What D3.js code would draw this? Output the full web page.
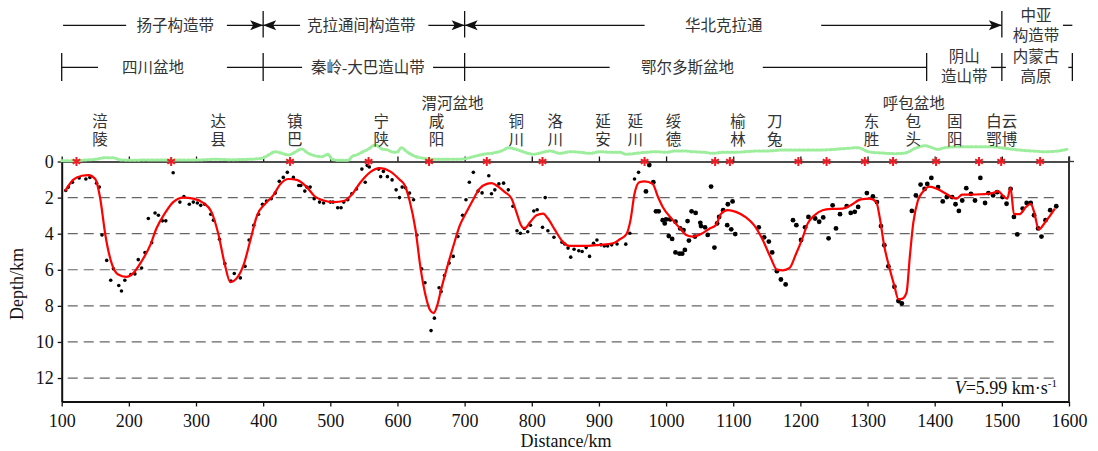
<!DOCTYPE html>
<meta charset="utf-8">
<style>
  body { margin: 0; background: #fff; }
  svg { display: block; }
  .cjk { font-family: "Liberation Serif", "Noto Sans CJK SC", serif; font-size: 15.5px; fill: #333; }
  .num { font-family: "Liberation Serif", "Times New Roman", serif; font-size: 18px; fill: #111; }
</style>
<script src="https://d3js.org/d3.v7.min.js"></script>

<svg id="chart" width="1098" height="451" xml:lang="zh-CN"></svg>

<script>
// ---- data (distance in km, depth in km) ----
const xTickValues = [100, 200, 300, 400, 500, 600, 700, 800, 900, 1000, 1100, 1200, 1300, 1400, 1500, 1600];
const yTickValues = [0, 2, 4, 6, 8, 10, 12];

// black dots: picked depths
const dotDist = [
  106, 110, 116, 126, 136, 142, 152, 156, 160, 167,
  173, 177, 185, 189, 194, 203, 209, 214, 219, 224,
  229, 234, 239, 244, 250, 255, 266, 276, 282, 290,
  296, 302, 307, 313, 322, 326, 335, 343, 352, 357,
  366, 373, 379, 386, 393, 399, 405, 412, 418, 424,
  430, 436, 445, 453, 456, 462, 465, 470, 476, 484,
  490, 500, 504, 511, 516, 520, 526, 532, 539, 547,
  552, 555, 558, 572, 575, 579, 585, 592, 598, 603,
  607, 612, 618, 624, 629, 636, 641, 650, 655, 662,
  665, 670, 677, 683, 690, 697, 702, 707, 713, 720,
  726, 736, 740, 745, 751, 758, 765, 772, 778, 783,
  789, 794, 798, 803, 808, 816, 820, 824, 833, 845,
  849, 854, 858, 863, 870, 875, 881, 886, 892, 897,
  903, 908, 913, 919, 927, 940, 946, 953, 959, 970,
  975, 981, 985, 989, 995, 998, 1000, 1004, 1006, 1009,
  1014, 1014, 1020, 1021, 1024, 1026, 1028, 1032, 1034, 1038,
  1043, 1044, 1051, 1052, 1058, 1062, 1067, 1072, 1076, 1079,
  1085, 1091, 1092, 1097, 1099, 1103, 1138, 1146, 1153, 1158,
  1165, 1171, 1178, 1189, 1194, 1201, 1207, 1212, 1222, 1228,
  1234, 1242, 1248, 1253, 1259, 1269, 1275, 1281, 1286, 1299,
  1308, 1314, 1320, 1325, 1331, 1340, 1346, 1351, 1366, 1372,
  1379, 1385, 1389, 1395, 1405, 1412, 1418, 1426, 1431, 1436,
  1441, 1447, 1454, 1460, 1468, 1475, 1480, 1487, 1493, 1501,
  1507, 1513, 1518, 1523, 1531, 1537, 1543, 1548, 1554, 1559,
  1565, 1572, 1581
];
const dotDepth = [
  1.61, 1.42, 1.15, 0.91, 0.97, 0.88, 1.20, 1.42, 4.07, 5.48,
  6.58, 5.95, 6.87, 7.18, 6.58, 6.26, 6.23, 5.44, 5.90, 5.04,
  3.16, 4.50, 2.85, 2.98, 3.29, 3.29, 0.62, 2.25, 1.94, 2.37,
  2.25, 2.30, 2.43, 2.37, 2.92, 3.25, 4.31, 5.66, 6.63, 6.21,
  6.45, 5.81, 4.35, 3.53, 2.92, 2.37, 2.19, 2.06, 1.75, 1.10,
  0.88, 0.60, 0.88, 1.33, 1.33, 1.64, 1.42, 1.42, 2.06, 2.25,
  2.30, 2.25, 2.25, 2.56, 2.56, 2.25, 2.12, 1.79, 1.52, 0.42,
  1.15, 0.22, 0.30, 0.42, 0.84, 0.55, 0.84, 1.02, 1.57, 2.00,
  1.42, 1.46, 1.75, 2.12, 4.07, 5.95, 6.72, 9.37, 8.68, 7.00,
  7.21, 6.32, 5.63, 5.26, 4.16, 2.98, 2.12, 1.15, 0.60, 1.64,
  1.74, 0.79, 1.79, 1.57, 1.24, 1.20, 1.57, 2.48, 3.84, 3.98,
  3.71, 3.89, 3.53, 2.74, 2.67, 3.65, 2.00, 3.84, 4.20, 4.47,
  4.57, 4.80, 5.30, 4.86, 4.95, 4.99, 4.77, 5.26, 4.53, 4.35,
  4.62, 4.68, 4.68, 4.62, 4.57, 4.58, 3.98, 0.97, 0.60, 1.66,
  0.20, 1.15, 2.76, 2.76, 3.25, 3.43, 3.21, 4.13, 3.21, 4.29,
  3.34, 5.04, 5.11, 3.71, 5.11, 3.80, 4.90, 3.30, 4.38, 2.76,
  4.16, 2.85, 3.40, 3.58, 3.65, 4.07, 1.39, 4.77, 3.43, 3.07,
  2.70, 3.53, 2.37, 3.76, 2.21, 4.02, 3.65, 4.20, 4.44, 5.04,
  6.08, 6.54, 6.81, 3.25, 3.53, 4.35, 3.65, 3.07, 3.16, 3.34,
  3.10, 4.26, 2.43, 3.71, 2.92, 2.47, 2.85, 2.79, 2.52, 1.75,
  1.94, 2.25, 3.58, 4.64, 5.81, 6.94, 7.73, 7.87, 2.74, 1.88,
  1.28, 1.52, 1.24, 0.91, 1.42, 2.21, 1.97, 1.97, 2.37, 2.74,
  2.16, 1.48, 1.79, 2.16, 0.91, 2.30, 1.75, 1.88, 1.70, 1.97,
  2.34, 1.52, 3.07, 4.04, 2.61, 2.30, 2.30, 2.98, 3.71, 4.16,
  3.25, 2.70, 2.48
];

// red curve: fitted basement interface
const fitDist = [
  105, 117, 130, 140, 150, 157, 165, 175, 184, 196,
  207, 219, 232, 241, 254, 266, 281, 296, 311, 323,
  333, 343, 351, 361, 371, 381, 391, 403, 415, 425,
  438, 450, 465, 477, 490, 505, 520, 532, 545, 559,
  574, 589, 603, 611, 618, 627, 634, 642, 649, 654,
  659, 665, 673, 683, 693, 703, 712, 722, 733, 740,
  750, 760, 770, 777, 784, 789, 798, 807, 817, 824,
  834, 846, 856, 881, 901, 921, 931, 941, 947, 953,
  960, 968, 980, 988, 995, 1010, 1022, 1030, 1040, 1052,
  1065, 1074, 1082, 1092, 1104, 1119, 1131, 1144, 1156, 1165,
  1174, 1184, 1193, 1203, 1211, 1221, 1233, 1246, 1263, 1275,
  1290, 1303, 1313, 1318, 1325, 1332, 1340, 1346, 1352, 1358,
  1363, 1368, 1375, 1382, 1392, 1404, 1417, 1432, 1441, 1461,
  1486, 1494, 1503, 1508, 1513, 1518, 1526, 1536, 1543, 1548,
  1555, 1565, 1579
];
const fitDepth = [
  1.64, 1.02, 0.79, 0.75, 0.97, 1.97, 4.07, 5.72, 6.26, 6.39,
  6.17, 5.53, 4.62, 3.71, 2.85, 2.25, 2.00, 2.06, 2.30, 2.79,
  3.98, 5.72, 6.68, 6.45, 5.72, 4.35, 2.98, 2.34, 1.88, 1.28,
  0.97, 1.02, 1.42, 1.94, 2.16, 2.25, 2.19, 1.83, 1.15, 0.60,
  0.37, 0.55, 1.00, 1.33, 2.16, 3.80, 5.81, 7.45, 8.27, 8.40,
  8.00, 7.09, 5.99, 4.71, 3.53, 2.79, 2.16, 1.52, 1.24, 1.20,
  1.39, 1.70, 2.06, 2.79, 3.53, 3.71, 3.34, 2.98, 2.89, 3.16,
  3.76, 4.44, 4.68, 4.68, 4.62, 4.53, 4.31, 4.02, 3.25, 1.79,
  1.15, 1.10, 1.24, 1.97, 2.52, 3.25, 3.76, 4.07, 4.16, 4.02,
  3.71, 3.53, 2.89, 2.70, 2.79, 3.10, 3.53, 4.35, 5.35, 5.99,
  6.03, 5.90, 5.17, 4.26, 3.43, 2.98, 2.70, 2.63, 2.61, 2.43,
  2.10, 2.06, 2.25, 3.07, 4.71, 5.81, 6.90, 7.63, 7.60, 7.27,
  5.26, 3.43, 2.16, 1.70, 1.39, 1.52, 1.79, 2.06, 1.84, 1.83,
  1.75, 1.64, 1.94, 2.06, 1.46, 2.92, 2.92, 2.52, 2.34, 2.79,
  3.76, 3.34, 2.61
];

// red stars: stations on the surface
const stationDist = [122, 263, 440, 557, 647, 733, 816, 968, 1073, 1095, 1197, 1239, 1296, 1338, 1402, 1466, 1499, 1557];

// green: surface elevation (km)
const topoDist = [
  100, 120, 135, 150, 165, 175, 189, 204, 229, 254, 279, 303, 328, 353, 378, 398, 408, 418, 428, 438,
  447, 457, 467, 477, 487, 497, 502, 512, 527, 532, 539, 547, 557, 567, 577, 586, 591, 599, 606, 614,
  624, 639, 658, 678, 698, 713, 728, 743, 758, 765, 775, 787, 802, 817, 827, 842, 857, 872, 887, 902,
  917, 931, 941, 956, 971, 986, 1001, 1013, 1026, 1041, 1056, 1070, 1085, 1103, 1118, 1137, 1152, 1172, 1192, 1212,
  1232, 1252, 1271, 1286, 1301, 1321, 1341, 1356, 1371, 1386, 1396, 1405, 1415, 1435, 1460, 1485, 1505, 1525, 1545, 1564,
  1584, 1599
];
const topoElev = [
  0.05, 0.05, 0.17, 0.28, 0.55, 0.55, 0.17, 0.12, 0.17, 0.17, 0.17, 0.17, 0.28, 0.22, 0.28, 0.45, 1.00, 1.55, 1.28, 1.00,
  1.45, 2.00, 1.28, 0.88, 0.72, 1.12, 0.33, 0.12, 0.12, 0.72, 1.00, 1.45, 2.00, 2.67, 2.00, 1.83, 1.55, 1.45, 2.22, 1.55,
  0.88, 0.45, 0.28, 0.28, 0.33, 0.72, 1.12, 1.33, 1.83, 2.22, 2.00, 1.55, 1.12, 1.45, 1.67, 1.28, 1.55, 1.45, 1.28, 1.55,
  1.45, 1.45, 1.12, 1.28, 1.45, 1.55, 1.45, 1.67, 1.67, 1.55, 1.45, 1.28, 1.45, 1.45, 1.55, 1.67, 1.67, 1.83, 1.83, 1.83,
  1.83, 1.95, 2.12, 2.22, 1.55, 1.33, 1.22, 1.33, 2.12, 2.55, 2.22, 1.95, 2.22, 2.38, 2.38, 2.38, 2.12, 1.83, 1.67, 1.55,
  1.67, 2.00
];

// place names along the profile
const cityNames = ["涪陵", "达县", "镇巴", "宁陕", "咸阳", "铜川", "洛川", "延安", "延川", "绥德", "榆林", "刀兔", "东胜", "包头", "固阳", "白云鄂博"];
const cityDist = [157, 333, 447, 576, 658, 777, 835, 906, 954, 1011, 1107, 1162, 1306, 1368, 1430, 1500];
const basinNames = ["渭河盆地", "呼包盆地"];
const basinDist = [682, 1369];

// tectonic belts (first header row)
const tectNames = [["扬子构造带"], ["克拉通间构造带"], ["华北克拉通"], ["中亚", "构造带"]];
const tectFrom = [102, 400, 700, 1500];
const tectTo = [400, 700, 1500, 1605];
const tectCenter = [269, 546, 1086, 1551];
const tectGap = [[196, 346], [455, 646], [968, 1231], [1500, 1591]];

// geological units (second header row)
const geoNames = [["四川盆地"], ["秦岭-大巴造山带"], ["鄂尔多斯盆地"], ["阴山", "造山带"], ["内蒙古", "高原"]];
const geoFrom = [100, 400, 700, 1388, 1500];
const geoTo = [400, 700, 1388, 1500, 1605];
const geoCenter = [236, 556, 1032, 1444, 1551];
const geoGap = [[154, 346], [458, 653], [916, 1144], [1388, 1484], [1506, 1599]];

const velocityNote = "5.99";

// ---- setup ----
const svg = d3.select("#chart");

const x = d3.scaleLinear().domain([100, 1600]).range([61.7, 1069]);
const y = d3.scaleLinear().domain([0, 13.3]).range([161.5, 401.5]);
// elevation drawn above the surface line
const yTopo = d3.scaleLinear().domain([0, 3]).range([y(0) - 0.5, y(0) - 18.5]);

// dashed depth grid
svg.append("g")
  .selectAll("line")
  .data(yTickValues.filter(d => d > 0))
  .join("line")
    .attr("x1", x(109)).attr("x2", x(1578))
    .attr("y1", d => y(d)).attr("y2", d => y(d))
    .attr("stroke", "#666")
    .attr("stroke-width", 1.2)
    .attr("stroke-dasharray", "10,6");

// axes
const axisB = svg.append("g")
  .attr("transform", `translate(0,${y.range()[1]})`)
  .call(d3.axisBottom(x).tickValues(xTickValues).tickFormat(d3.format("d"))
    .tickSize(5).tickSizeOuter(0).tickPadding(8));
axisB.selectAll("text").attr("class", "num").attr("fill", null);

const axisL = svg.append("g")
  .attr("transform", `translate(${x(100)},0)`)
  .call(d3.axisLeft(y).tickValues(yTickValues).tickSize(4).tickSizeOuter(0).tickPadding(4));
axisL.selectAll("text").attr("class", "num").attr("fill", null);

const axisT = svg.append("g")
  .attr("transform", `translate(0,${y(0)})`)
  .call(d3.axisTop(x).tickValues(xTickValues).tickSize(5).tickSizeOuter(0).tickFormat(""));

[axisB, axisL, axisT].forEach(g => {
  g.select(".domain").attr("stroke-width", 1.6).attr("stroke", "#111");
  g.selectAll(".tick line").attr("stroke-width", 1.3).attr("stroke", "#111");
});
axisL.select(".domain").attr("stroke-width", 2);
axisB.select(".domain").attr("stroke-width", 2);

// right frame
svg.append("line")
  .attr("x1", x(1600)).attr("x2", x(1600))
  .attr("y1", y(0) - 5).attr("y2", y.range()[1])
  .attr("stroke", "#333").attr("stroke-width", 2);
svg.append("line")
  .attr("x1", x(1600)).attr("x2", x(1600) + 5)
  .attr("y1", y(0)).attr("y2", y(0))
  .attr("stroke", "#333").attr("stroke-width", 1.3);

// axis titles
svg.append("text")
  .attr("class", "num")
  .attr("text-anchor", "middle")
  .attr("transform", "translate(23,284) rotate(-90)")
  .text("Depth/km");

svg.append("text")
  .attr("class", "num")
  .attr("text-anchor", "middle")
  .attr("x", 566).attr("y", 447)
  .text("Distance/km");

const note = svg.append("text")
  .attr("class", "num")
  .attr("text-anchor", "end")
  .attr("x", 1057).attr("y", 394);
note.append("tspan").attr("font-style", "italic").text("V");
note.append("tspan").text("=" + velocityNote + " km·s");
note.append("tspan").attr("font-size", "11px").attr("dy", -7).text("-1");

// surface elevation
const topo = topoDist.map((d, i) => [d, topoElev[i]]);
svg.append("path")
  .datum(topo)
  .attr("fill", "none")
  .attr("stroke", "#9cee9c")
  .attr("stroke-width", 3)
  .attr("stroke-linecap", "round")
  .attr("stroke-dasharray", "2.5,2")
  .attr("d", d3.line().x(d => x(d[0])).y(d => yTopo(d[1])).curve(d3.curveMonotoneX));

// picked points
const dots = dotDist.map((d, i) => [d, dotDepth[i]]);
svg.append("g")
  .selectAll("circle")
  .data(dots)
  .join("circle")
    .attr("cx", d => x(d[0]))
    .attr("cy", d => y(d[1]))
    .attr("r", d => d[0] > 960 ? 2.4 : 1.8)
    .attr("fill", "#000");

// fitted curve
const fit = fitDist.map((d, i) => [d, fitDepth[i]]);
svg.append("path")
  .datum(fit)
  .attr("fill", "none")
  .attr("stroke", "#ff0000")
  .attr("stroke-width", 2.2)
  .attr("d", d3.line().x(d => x(d[0])).y(d => y(d[1])).curve(d3.curveMonotoneX));

// stations
const star = d3.symbol().type(d3.symbolAsterisk).size(55);
svg.append("g")
  .selectAll("path")
  .data(stationDist)
  .join("path")
    .attr("transform", d => `translate(${x(d)},${y(0)})`)
    .attr("d", star)
    .attr("fill", "none")
    .attr("stroke", "#ee1c24")
    .attr("stroke-width", 2);

// place names: two characters per row, stacked; a basin name sits above its nearest place
const cities = svg.append("g").attr("class", "cjk").attr("text-anchor", "middle");
cityNames.forEach((name, i) => {
  const t = cities.append("text");
  basinNames.forEach((b, k) => {
    const nearest = d3.minIndex(cityDist, c => Math.abs(c - basinDist[k]));
    if (nearest === i) {
      t.append("tspan").attr("x", x(basinDist[k])).attr("y", 103)
        .attr("dominant-baseline", "central").text(b);
    }
  });
  const rows = name.length > 2 ? [name.slice(0, 2), name.slice(2)] : name.split("");
  rows.forEach((r, j) => {
    t.append("tspan")
      .attr("x", x(cityDist[i]))
      .attr("y", 121.3 + j * 18.4)
      .attr("dominant-baseline", "central")
      .text(r);
  });
});

// header rows
function headerRow(names, from, to, center, gap, yMid, arrows, yTwo) {
  const g = svg.append("g");
  names.forEach((lines, i) => {
    const a = from[i], b = to[i], g0 = gap[i][0], g1 = gap[i][1];
    if (g0 > a) {
      g.append("line").attr("x1", x(a)).attr("x2", x(g0)).attr("y1", yMid).attr("y2", yMid)
        .attr("stroke", "#111").attr("stroke-width", 1.3);
    }
    if (g1 < b) {
      g.append("line").attr("x1", x(g1)).attr("x2", x(b)).attr("y1", yMid).attr("y2", yMid)
        .attr("stroke", "#111").attr("stroke-width", 1.3);
    }
    if (arrows) {
      if (i > 0 && g0 > a) {
        g.append("path")
          .attr("d", `M${x(a)},${yMid} l13,-5 l-3,5 l3,5 z`)
          .attr("fill", "#111");
      }
      if (b < 1600 && g1 < b) {
        g.append("path")
          .attr("d", `M${x(b)},${yMid} l-13,-5 l3,5 l-3,5 z`)
          .attr("fill", "#111");
      }
    }
    const t = g.append("text").attr("class", "cjk").attr("text-anchor", "middle");
    lines.forEach((s, j) => {
      t.append("tspan")
        .attr("x", x(center[i]))
        .attr("y", lines.length > 1 ? yTwo[j] : yMid)
        .attr("dominant-baseline", "central")
        .text(s);
    });
  });
  return g;
}

const row1 = headerRow(tectNames, tectFrom, tectTo, tectCenter, tectGap, 25.3, true, [15.8, 35]);
[400, 700, 1500].forEach(b => {
  row1.append("line").attr("x1", x(b)).attr("x2", x(b)).attr("y1", 11).attr("y2", 37.5)
    .attr("stroke", "#111").attr("stroke-width", 1.3);
});

const row2 = headerRow(geoNames, geoFrom, geoTo, geoCenter, geoGap, 67.4, false, [56, 76.5]);
[100, 400, 700, 1388, 1500, 1605].forEach(b => {
  row2.append("line").attr("x1", x(b)).attr("x2", x(b)).attr("y1", 53).attr("y2", 81)
    .attr("stroke", "#111").attr("stroke-width", 1.3);
});
</script>
